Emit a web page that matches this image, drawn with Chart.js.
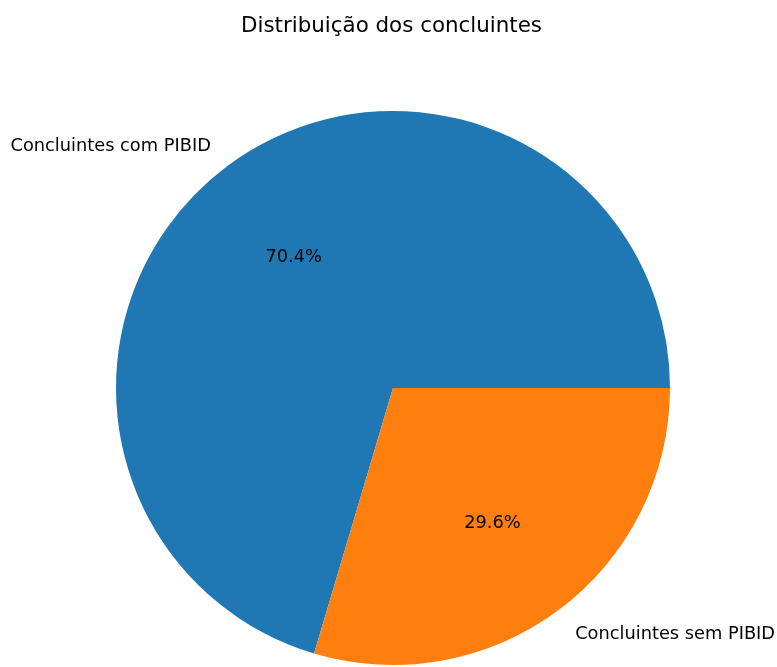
<!DOCTYPE html>
<html>
<head>
<meta charset="utf-8">
<title>Distribuição dos concluintes</title>
<script src="https://cdn.jsdelivr.net/npm/chart.js@4/dist/chart.umd.min.js"></script>
<style>
    html, body { margin: 0; padding: 0; background: #ffffff; }
    canvas { display: block; }
</style>
</head>
<body>
<canvas id="pieChart" width="777" height="667"></canvas>
<script>
// --- Data ---
const categories = ['Concluintes com PIBID', 'Concluintes sem PIBID'];
const shares = [70.4, 29.6];
const sliceColors = ['#1f77b4', '#ff7f0e'];
const chartTitle = 'Distribuição dos concluintes';

const FONT = '"DejaVu Sans", sans-serif';
const total = shares.reduce((a, b) => a + b, 0);
// matplotlib starts the first slice at 3 o'clock and goes counter-clockwise;
// Chart.js goes clockwise, so shift the start so the first slice ends at 3 o'clock
const startRotation = 90 + 360 * (1 - shares[0] / total);

// --- Labels drawn like matplotlib's pie (labels at 1.1 r, pct at 0.6 r) ---
const pieLabels = {
    id: 'pieLabels',
    afterDatasetsDraw(chart) {
        const ctx = chart.ctx;
        const meta = chart.getDatasetMeta(0);
        ctx.save();
        ctx.fillStyle = '#000000';
        ctx.font = '17.8px ' + FONT;
        ctx.textBaseline = 'alphabetic';
        meta.data.forEach((arc, i) => {
            const p = arc.getProps(['x', 'y', 'startAngle', 'endAngle', 'outerRadius'], true);
            const mid = (p.startAngle + p.endAngle) / 2;
            const c = Math.cos(mid), s = Math.sin(mid);
            // outer label
            ctx.textAlign = c < 0 ? 'right' : 'left';
            ctx.fillText(categories[i], p.x + c * p.outerRadius * 1.1, p.y + s * p.outerRadius * 1.1 + 7);
            // percentage
            ctx.textAlign = 'center';
            const pct = (shares[i] / total * 100).toFixed(1) + '%';
            ctx.fillText(pct, p.x + c * p.outerRadius * 0.6, p.y + s * p.outerRadius * 0.6 + 7);
        });
        // title
        ctx.font = '21.4px ' + FONT;
        ctx.textAlign = 'center';
        ctx.fillText(chartTitle, chart.width / 2 + 3, 32);
        ctx.restore();
    }
};

new Chart(document.getElementById('pieChart').getContext('2d'), {
    type: 'pie',
    data: {
        labels: categories,
        datasets: [{
            data: shares,
            backgroundColor: sliceColors,
            borderWidth: 0,
            hoverOffset: 0
        }]
    },
    options: {
        responsive: false,
        animation: false,
        rotation: startRotation,
        layout: {
            padding: { top: 111, bottom: 2, left: 116, right: 107 }
        },
        plugins: {
            legend: { display: false },
            tooltip: { enabled: false },
            title: { display: false }
        }
    },
    plugins: [pieLabels]
});
</script>
</body>
</html>
